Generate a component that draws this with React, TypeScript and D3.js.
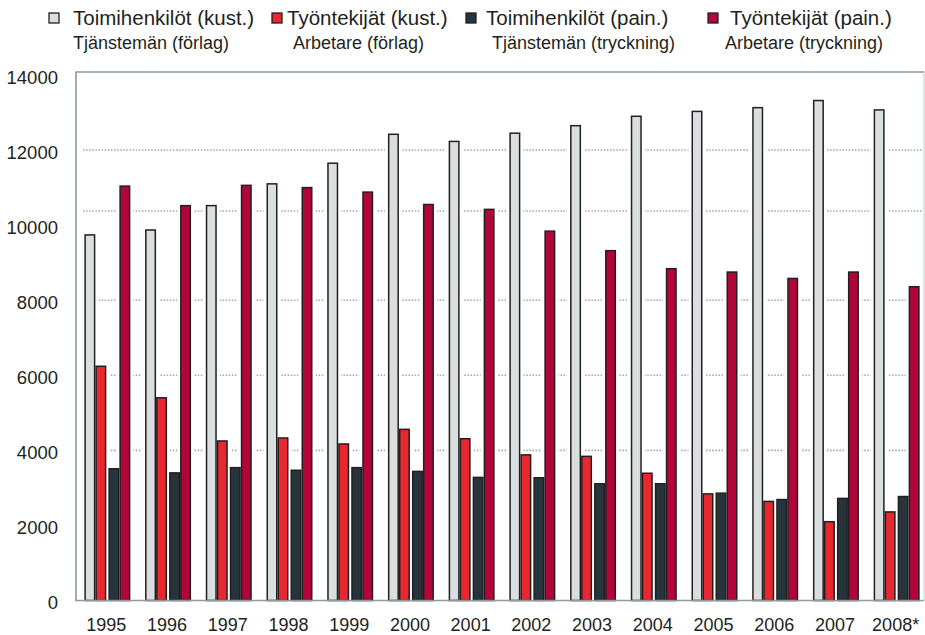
import React from 'react';
import * as d3 from 'd3';

// years on the x axis
const years = ['1995', '1996', '1997', '1998', '1999', '2000', '2001', '2002', '2003', '2004', '2005', '2006', '2007', '2008*'];

// Toimihenkilöt (kust.) / Tjänstemän (förlag)
const toimiKust = [9760, 9890, 10540, 11120, 11670, 12440, 12250, 12470, 12670, 12920, 13050, 13150, 13340, 13090];
// Työntekijät (kust.) / Arbetare (förlag)
const tyoKust = [6260, 5420, 4270, 4350, 4190, 4580, 4330, 3900, 3860, 3410, 2860, 2660, 2120, 2380];
// Toimihenkilöt (pain.) / Tjänstemän (tryckning)
const toimiPain = [3530, 3420, 3560, 3490, 3560, 3460, 3300, 3290, 3130, 3130, 2880, 2710, 2740, 2790];
// Työntekijät (pain.) / Arbetare (tryckning)
const tyoPain = [11060, 10540, 11080, 11020, 10900, 10570, 10440, 9860, 9340, 8860, 8770, 8600, 8770, 8380];

const seriesNames = ['Toimihenkilöt (kust.)', 'Työntekijät (kust.)', 'Toimihenkilöt (pain.)', 'Työntekijät (pain.)'];
const seriesSub = ['Tjänstemän (förlag)', 'Arbetare (förlag)', 'Tjänstemän (tryckning)', 'Arbetare (tryckning)'];

const yTicks = [0, 2000, 4000, 6000, 8000, 10000, 12000, 14000];
// dotted lines as they sit in the original (one is off the 10000 tick)
const gridValues = [4000, 6000, 8000, 10375, 12000];

const colors = ['#d9dfde', '#e8272e', '#26353b', '#b2053a'];
const FONT = '"Liberation Sans", Arial, Helvetica, sans-serif';

const W = 925;
const H = 635;
const plot = { left: 76, right: 924, top: 72, bottom: 600.5 };

// legend placement
const legendSquareX = [49, 272, 466, 708];
const legendTextX = [73, 287, 486, 730];
const legendSubX = [73, 293, 492, 725];

export default function App() {
  const all = [toimiKust, tyoKust, toimiPain, tyoPain];

  const x = d3.scaleBand<string>().domain(years).range([77, 927]).padding(0);
  const y = d3.scaleLinear().domain([0, 14000]).range([plot.bottom, 75]);

  const groupW = 46;
  const inner = d3.scaleBand<number>().domain([0, 1, 2, 3]).range([0, groupW - 2]).padding(0);
  const barX = (i: number, s: number) =>
    (x(years[i]) as number) + x.bandwidth() / 2 - groupW / 2 + (inner(s) as number) + (s >= 2 ? 2 : 0);
  const bw = inner.bandwidth();

  const bars: { i: number; s: number; v: number }[] = [];
  all.forEach((arr, s) => arr.forEach((v, i) => bars.push({ i, s, v })));

  return (
    <svg width={W} height={H} style={{ position: 'absolute', left: 0, top: 0, display: 'block', background: '#fff' }}
      fontFamily={FONT}>
      {/* legend */}
      {seriesNames.map((name, k) => (
        <g key={name}>
          <rect x={legendSquareX[k]} y={13} width={10} height={10} fill={colors[k]} stroke="#231f20" strokeWidth={1.3} />
          <text x={legendTextX[k]} y={25} fontSize={20.5} fill="#231f20">{name}</text>
          <text x={legendSubX[k]} y={49} fontSize={18} fill="#231f20">{seriesSub[k]}</text>
        </g>
      ))}

      {/* grid */}
      {gridValues.map(v => (
        <line key={v} x1={83} x2={922} y1={y(v)} y2={y(v)} stroke="#9ea7ae" strokeWidth={1.6} strokeDasharray="1.5 1.6" />
      ))}

      {/* white halos behind bars, breaking the grid */}
      {bars.map(b => (
        <rect key={'h' + b.s + '-' + b.i} x={barX(b.i, b.s) - 3} y={y(b.v) - 2} width={bw + 6}
          height={plot.bottom - y(b.v) + 2} fill="#fff" />
      ))}

      {/* bars */}
      {bars.map(b => (
        <rect key={'b' + b.s + '-' + b.i} x={barX(b.i, b.s) + 0.75} y={y(b.v) + 0.75} width={bw - 1.5}
          height={plot.bottom - y(b.v) - 0.75} fill={colors[b.s]} stroke="#231f20" strokeWidth={1.5} />
      ))}

      {/* frame */}
      <path d={`M${plot.right},${plot.top}H${plot.left}V${plot.bottom}H${plot.right}`} fill="none" stroke="#8e989e" strokeWidth={1.6} />
      <line x1={plot.right} x2={plot.right} y1={plot.top} y2={plot.bottom} stroke="#c4cacd" strokeWidth={1} />

      {/* y axis labels */}
      {yTicks.map(t => (
        <text key={t} x={58} y={y(t) + 8.5} fontSize={18.5} textAnchor="end" fill="#231f20">{t}</text>
      ))}

      {/* x axis labels */}
      {years.map(yr => (
        <text key={yr} x={(x(yr) as number) + x.bandwidth() / 2 - 1} y={630.5} fontSize={18} textAnchor="middle" fill="#231f20">{yr}</text>
      ))}
    </svg>
  );
}
